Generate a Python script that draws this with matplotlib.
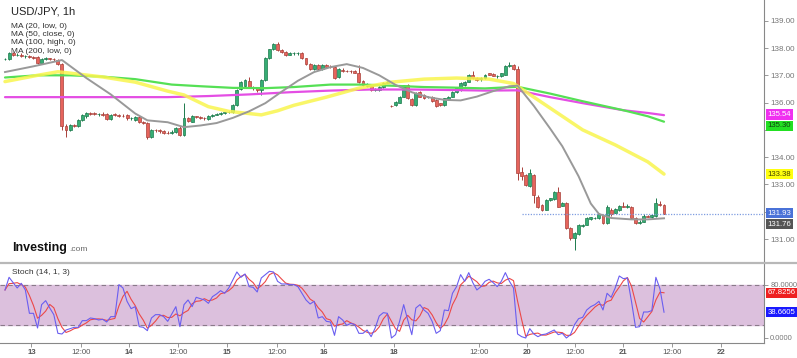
import numpy as np
import pandas as pd
import matplotlib
matplotlib.use("Agg")
import matplotlib.pyplot as plt
from matplotlib.lines import Line2D

plt.rcParams['font.family'] = ['Liberation Sans', 'DejaVu Sans']

# ---- data: USD/JPY hourly candles ----
opens = [
    137.58, 137.58, 137.80, 137.74, 137.76, 137.70, 137.72, 137.66, 137.66, 137.46,
    137.60, 137.62, 137.60, 137.56, 137.40, 135.14, 135.00, 135.18, 135.16, 135.36,
    135.50, 135.62, 135.62, 135.57, 135.58, 135.58, 135.40, 135.56, 135.55, 135.52,
    135.53, 135.42, 135.37, 135.47, 135.29, 135.25, 134.74, 135.00, 134.98, 134.97,
    134.90, 134.88, 134.94, 135.08, 134.80, 135.43, 135.30, 135.50, 135.47, 135.44,
    135.40, 135.50, 135.55, 135.58, 135.62, 135.65, 135.66, 135.90, 136.50, 136.62,
    136.80, 136.56, 136.52, 136.48, 136.83, 137.63, 137.95, 138.16, 137.94, 137.85,
    137.76, 137.80, 137.80, 137.82, 137.62, 137.42, 137.22, 137.36, 137.22, 137.37,
    137.31, 137.30, 136.93, 137.20, 137.16, 137.15, 137.14, 137.10, 136.78, 136.62,
    136.60, 136.48, 136.46, 136.57, 136.72, 135.88, 135.91, 136.00, 136.22, 136.64,
    136.12, 135.91, 136.40, 136.28, 136.20, 136.22, 136.10, 135.97, 135.91, 136.13,
    136.22, 136.38, 136.45, 136.66, 136.77, 137.00, 136.90, 136.86, 136.89, 137.07,
    137.05, 136.97, 136.96, 137.02, 137.34, 137.36, 137.23, 133.47, 133.35, 132.95,
    133.35, 132.55, 132.25, 132.07, 132.42, 132.45, 132.74, 132.22, 132.31, 131.40,
    131.03, 131.18, 131.46, 131.52, 131.73, 131.76, 131.77, 131.88, 131.58, 132.07,
    131.96, 132.07, 132.22, 132.18, 132.19, 131.76, 131.58, 131.64, 131.84, 131.80,
    131.84, 132.28, 132.24,
]
highs = [
    137.62, 137.85, 137.84, 137.80, 137.80, 137.76, 137.75, 137.70, 137.70, 137.64,
    137.66, 137.65, 137.63, 137.60, 137.44, 135.20, 135.22, 135.22, 135.40, 135.58,
    135.66, 135.66, 135.66, 135.62, 135.64, 135.62, 135.60, 135.62, 135.60, 135.58,
    135.58, 135.48, 135.50, 135.50, 135.34, 135.28, 135.04, 135.04, 135.02, 135.00,
    134.95, 134.98, 135.12, 135.14, 135.98, 135.48, 135.54, 135.52, 135.50, 135.48,
    135.54, 135.58, 135.61, 135.64, 135.67, 135.69, 135.94, 136.50, 136.78, 136.86,
    136.95, 136.60, 136.55, 136.86, 137.68, 137.98, 138.20, 138.22, 137.98, 137.88,
    137.84, 137.84, 137.84, 137.86, 137.65, 137.45, 137.40, 137.40, 137.40, 137.40,
    137.36, 137.34, 137.26, 137.26, 137.20, 137.19, 137.20, 137.38, 136.82, 136.70,
    136.62, 136.54, 136.60, 136.74, 136.80, 135.90, 136.06, 136.25, 136.66, 136.68,
    136.16, 136.38, 136.44, 136.30, 136.26, 136.25, 136.13, 136.00, 136.18, 136.25,
    136.43, 136.55, 136.76, 136.80, 137.04, 137.17, 136.92, 136.93, 137.05, 137.10,
    137.08, 137.02, 137.10, 137.38, 137.48, 137.40, 137.35, 133.65, 133.38, 133.55,
    133.40, 132.60, 132.28, 132.46, 132.52, 132.77, 132.92, 132.34, 132.34, 131.43,
    131.25, 131.55, 131.56, 131.82, 131.82, 131.82, 131.94, 131.92, 132.24, 132.12,
    132.14, 132.26, 132.37, 132.30, 132.22, 131.80, 131.68, 131.90, 131.88, 131.90,
    132.49, 132.38, 132.28,
]
lows = [
    137.55, 137.55, 137.70, 137.70, 137.66, 137.64, 137.62, 137.60, 137.42, 137.44,
    137.56, 137.56, 137.54, 137.36, 134.98, 134.74, 134.95, 135.10, 135.12, 135.32,
    135.45, 135.56, 135.54, 135.52, 135.52, 135.36, 135.38, 135.50, 135.48, 135.46,
    135.38, 135.36, 135.34, 135.26, 135.20, 134.68, 134.70, 134.92, 134.90, 134.86,
    134.84, 134.86, 134.90, 134.76, 134.78, 135.28, 135.28, 135.44, 135.40, 135.38,
    135.38, 135.48, 135.53, 135.56, 135.59, 135.62, 135.62, 135.86, 136.46, 136.58,
    136.52, 136.48, 136.38, 136.28, 136.80, 137.60, 137.92, 137.90, 137.82, 137.72,
    137.74, 137.76, 137.76, 137.58, 137.38, 137.18, 137.18, 137.18, 137.20, 137.28,
    137.26, 136.86, 136.90, 137.12, 137.11, 137.10, 137.08, 136.72, 136.60, 136.58,
    136.44, 136.42, 136.44, 136.55, 136.70, 135.85, 135.88, 135.97, 136.20, 136.12,
    135.88, 135.88, 136.20, 136.12, 136.16, 136.04, 135.85, 135.86, 135.88, 136.10,
    136.20, 136.35, 136.42, 136.62, 136.75, 136.86, 136.80, 136.80, 136.87, 137.00,
    136.96, 136.90, 136.94, 137.00, 137.30, 137.20, 133.16, 133.16, 132.94, 132.90,
    132.31, 132.15, 132.03, 132.05, 132.40, 132.42, 132.16, 132.20, 131.37, 130.98,
    130.60, 131.15, 131.43, 131.50, 131.70, 131.72, 131.74, 131.55, 131.55, 131.86,
    131.94, 132.04, 132.16, 132.14, 131.72, 131.55, 131.55, 131.62, 131.80, 131.77,
    131.82, 132.20, 131.90,
]
closes = [
    137.58, 137.80, 137.74, 137.76, 137.70, 137.72, 137.66, 137.64, 137.46, 137.60,
    137.62, 137.60, 137.58, 137.40, 135.15, 135.00, 135.18, 135.16, 135.36, 135.55,
    135.62, 135.60, 135.57, 135.58, 135.56, 135.40, 135.56, 135.55, 135.52, 135.50,
    135.42, 135.42, 135.47, 135.29, 135.25, 134.74, 135.00, 134.98, 134.96, 134.90,
    134.88, 134.94, 135.08, 134.80, 135.43, 135.32, 135.50, 135.47, 135.44, 135.43,
    135.50, 135.55, 135.58, 135.62, 135.65, 135.66, 135.90, 136.46, 136.74, 136.83,
    136.56, 136.52, 136.48, 136.83, 137.63, 137.95, 138.16, 137.94, 137.85, 137.76,
    137.80, 137.80, 137.82, 137.62, 137.42, 137.22, 137.36, 137.22, 137.37, 137.31,
    137.30, 136.90, 137.23, 137.16, 137.15, 137.14, 137.10, 136.76, 136.64, 136.66,
    136.46, 136.50, 136.57, 136.72, 136.76, 135.87, 136.03, 136.22, 136.64, 136.16,
    135.91, 136.34, 136.22, 136.16, 136.22, 136.07, 135.88, 135.90, 136.16, 136.22,
    136.40, 136.52, 136.73, 136.77, 137.01, 136.90, 136.84, 136.89, 137.01, 137.02,
    136.98, 136.99, 137.07, 137.34, 137.36, 137.23, 133.42, 133.30, 132.98, 133.41,
    132.62, 132.19, 132.07, 132.43, 132.49, 132.74, 132.19, 132.31, 131.40, 131.03,
    131.21, 131.52, 131.53, 131.78, 131.79, 131.78, 131.91, 131.58, 132.19, 131.90,
    132.10, 132.22, 132.19, 132.18, 131.76, 131.58, 131.64, 131.86, 131.82, 131.88,
    132.31, 132.24, 131.93,
]

# moving averages (vertices: candle index, value)
ma20_idx = [0, 7, 14, 20, 26, 32, 35, 40, 44, 48, 52, 56, 60, 64, 68, 72, 76, 80, 84,
            88, 92, 96, 100, 104, 108, 112, 116, 120, 124, 126, 130, 134, 137, 141,
            144, 146, 149, 154, 158, 162]
ma20_low = [137.12, 137.33, 137.56, 136.90, 136.30, 135.60, 135.35, 135.28, 135.10,
            135.16, 135.25, 135.44, 135.68, 135.98, 136.40, 136.80, 137.12, 137.30,
            137.41, 137.27, 137.00, 136.65, 136.38, 136.20, 136.10, 136.08, 136.22,
            136.42, 136.60, 136.62, 135.88, 135.05, 134.40, 133.30, 132.30, 131.92,
            131.77, 131.72, 131.72, 131.76]
ma50_idx = [0, 8, 13, 16, 24, 32, 40, 44, 50, 55, 63, 67, 71, 79, 87, 95, 103, 111,
            119, 125, 134, 142, 150, 158, 162]
ma50_close = [136.77, 137.00, 137.13, 137.08, 136.94, 136.75, 136.42, 136.28, 135.85,
              135.68, 135.55, 135.70, 135.90, 136.20, 136.53, 136.75, 136.86, 136.90,
              136.86, 136.70, 135.80, 135.00, 134.45, 133.83, 133.38]
ma100_idx = [0, 8, 16, 24, 32, 41, 48, 56, 64, 71, 80, 88, 95, 103, 110, 118, 126,
             134, 142, 152, 158, 162]
ma100_high = [136.92, 137.00, 137.00, 136.95, 136.86, 136.66, 136.60, 136.54, 136.53,
              136.57, 136.66, 136.66, 136.62, 136.57, 136.55, 136.52, 136.58, 136.33,
              136.05, 135.72, 135.50, 135.30]
ma200_idx = [0, 20, 40, 50, 60, 70, 80, 90, 100, 110, 118, 126, 134, 142, 152, 158, 162]
ma200_low = [136.20, 136.20, 136.20, 136.24, 136.30, 136.38, 136.44, 136.48, 136.48,
             136.46, 136.44, 136.45, 136.20, 135.98, 135.72, 135.62, 135.54]

# stochastic %K (14, 1, 3)
stoch_k = [
    72, 91, 83, 75, 82, 72, 37, 37, 15, 50, 56, 45, 35, 7, 6, 12, 14, 16, 16, 26,
    26, 30, 29, 27, 28, 24, 32, 32, 80, 75, 55, 44, 47, 17, 16, 11, 30, 35, 35, 32,
    25, 36, 47, 17, 50, 57, 47, 61, 59, 57, 52, 62, 66, 71, 67, 75, 87, 99, 91, 96,
    77, 76, 69, 90, 95, 100, 99, 85, 81, 81, 80, 80, 77, 67, 57, 51, 55, 30, 32, 25,
    24, 4, 32, 27, 19, 22, 20, 7, 7, 12, 2, 15, 33, 38, 37, 0, 5, 25, 50, 27,
    5, 45, 50, 42, 37, 25, 7, 11, 42, 41, 67, 77, 95, 85, 98, 83, 72, 77, 85, 88,
    83, 77, 85, 98, 85, 75, 6, 2, 0, 14, 6, 2, 5, 6, 9, 12, 5, 7, 0, 5,
    20, 29, 31, 42, 47, 50, 55, 42, 67, 61, 75, 93, 89, 90, 55, 16, 17, 39, 39, 41,
    91.0, 73.8163, 38.6605,
]

price_ticks = [131, 132, 133, 134, 135, 136, 137, 138, 139]
hidden_ticks = [132, 135]   # covered by the value tags in the original
time_labels = ['13', '12:00', '14', '12:00', '15', '12:00', '16', '18', '12:00',
               '20', '12:00', '21', '12:00', '22']
time_pos = [6.5, 18.8, 30.5, 42.5, 54.5, 66.8, 78.3, 95.6, 116.5, 128.2, 140.2,
            152.0, 164.0, 176.0]
ma_names = ['MA (20, low, 0)', 'MA (50, close, 0)', 'MA (100, high, 0)', 'MA (200, low, 0)']

# ---- figure ----
W, H = 797, 358
fig = plt.figure(figsize=(W / 100, H / 100), dpi=100)
fig.patch.set_facecolor('white')

split = 262.5
bottom_px = 343
ax = fig.add_axes([0, 1 - split / H, 764 / W, split / H])
ax2 = fig.add_axes([0, 1 - bottom_px / H, 764 / W, (bottom_px - split) / H])

xlim = (-5 / 4.068, 759 / 4.068)
for a in (ax, ax2):
    a.set_xlim(*xlim)
    a.set_facecolor('none')
    for s in ('left', 'top'):
        a.spines[s].set_visible(False)
    a.spines['right'].set_color('#888888')
    a.spines['right'].set_linewidth(0.8)
ax.spines['bottom'].set_visible(False)
ax2.spines['bottom'].set_color('#888888')
ax2.spines['bottom'].set_linewidth(0.8)

ax.set_ylim(130.14, 139.76)
ax2.set_ylim(-7.5, 113.2)

# candles
idx = np.arange(len(closes))
o = np.array(opens)
c = np.array(closes)
hi = np.array(highs)
lo = np.array(lows)
up = c >= o
fill = np.where(up, '#36ad74', '#e6645c')
edge = np.where(up, '#1d7a4c', '#a8403a')
body_lo = np.minimum(o, c)
body_h = np.maximum(np.abs(c - o), 0.018)
ax.vlines(idx, lo, hi, colors=edge, linewidth=0.7, zorder=2)
ax.bar(idx, body_h, bottom=body_lo, width=0.72, color=fill, edgecolor=edge,
       linewidth=0.5, zorder=3)

# moving averages
ax.plot(ma200_idx, ma200_low, color='#e44ee4', lw=1.6, zorder=4, solid_capstyle='round')
ax.plot(ma100_idx, ma100_high, color='#55e055', lw=1.6, zorder=4, solid_capstyle='round')
ax.plot(ma50_idx, ma50_close, color='#f9f54e', lw=2.5, alpha=0.85, zorder=5,
        solid_capstyle='round')
ax.plot(ma20_idx, ma20_low, color='#999999', lw=1.4, zorder=6)

# last price dotted line
ax.hlines(closes[-1], 127, xlim[1], colors='#7f9de0', linestyles=(0, (1, 1.2)),
          lw=0.9, zorder=4)

# right price axis
ax.yaxis.tick_right()
ax.set_yticks(price_ticks)
ax.set_yticklabels(['' if v in hidden_ticks else f'{v:.2f}' for v in price_ticks])
ax.tick_params(axis='y', length=3, width=0.6, color='#888888', labelsize=5.8,
               labelcolor='#777777', pad=1.5)
ax.set_xticks([])


def value_tag(a, y, text, bg, fg, dy=0):
    a.annotate(text, xy=(1, y), xycoords=('axes fraction', 'data'),
               xytext=(2.5, dy), textcoords='offset points', ha='left', va='center',
               fontsize=5.6, color=fg, zorder=20, annotation_clip=False,
               bbox=dict(boxstyle='square,pad=0.2', fc=bg, ec='none'))


value_tag(ax, ma200_low[-1], f'{ma200_low[-1]:.2f}', '#f030f0', 'white', dy=0.5)
value_tag(ax, ma100_high[-1], f'{ma100_high[-1]:.2f}', '#22e022', '#114411', dy=-2.8)
value_tag(ax, ma50_close[-1], f'{ma50_close[-1]:.2f}', '#ffff10', '#444400')
value_tag(ax, closes[-1], f'{closes[-1]:.2f}', '#4a72d8', 'white', dy=0.3)
value_tag(ax, ma20_low[-1], f'{ma20_low[-1]:.2f}', '#555555', 'white', dy=-4.2)

# stochastic panel
k = pd.Series(stoch_k, dtype=float)
d = k.rolling(3, min_periods=1).mean()
ax2.axhspan(20, 80, color='#dcc0dd', zorder=1)
ax2.axhline(80, color='#8a7a8a', lw=0.8, ls=(0, (4, 3)), zorder=2)
ax2.axhline(20, color='#8a7a8a', lw=0.8, ls=(0, (4, 3)), zorder=2)
ax2.plot(idx, d, color='#ec4848', lw=0.8, zorder=3)
ax2.plot(idx, k, color='#6a5ef0', lw=0.8, zorder=4)

ax2.yaxis.tick_right()
ax2.set_yticks([0, 80])
ax2.set_yticklabels(['0.0000', '80.0000'])
ax2.tick_params(axis='y', length=3, width=0.6, color='#888888', labelsize=5.4,
                labelcolor='#777777', pad=1.5)
value_tag(ax2, d.iloc[-1], f'{d.iloc[-1]:.4f}', '#ee2020', 'white')
value_tag(ax2, k.iloc[-1], f'{k.iloc[-1]:.4f}', '#1a1aff', 'white')

ax2.set_xticks(time_pos)
ax2.set_xticklabels(time_labels)
ax2.tick_params(axis='x', length=3, width=0.6, color='#888888', labelsize=5.6,
                labelcolor='#555555', pad=1.5)
for lab in ax2.get_xticklabels():
    if ':' not in lab.get_text():
        lab.set_fontweight('bold')

# separator between panels
fig.add_artist(Line2D([0, 1], [1 - split / H, 1 - split / H], color='#b8b8b8',
                      lw=1.6, transform=fig.transFigure))

# texts
fig.text(11 / W, 1 - 12 / H, 'USD/JPY, 1h', fontsize=8, color='#222222', va='center')
for name, ypx in zip(ma_names, [26, 34.5, 43, 51.7]):
    fig.text(11 / W, 1 - ypx / H, name, fontsize=6, color='#333333', va='center')
fig.text(12 / W, 1 - 273 / H, 'Stoch (14, 1, 3)', fontsize=6, color='#333333', va='center')
fig.text(12 / W, 1 - 251 / H, 'Investing', fontsize=9, fontweight='bold',
         color='#111111', va='baseline')
fig.text(69 / W, 1 - 251 / H, '.com', fontsize=6, color='#666666', va='baseline')

fig.savefig('out.png', dpi=100, facecolor='white')
